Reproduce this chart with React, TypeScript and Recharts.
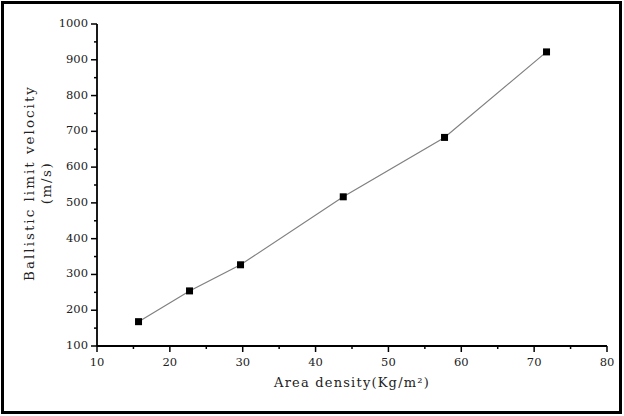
import { LineChart, Line, XAxis, YAxis, Label } from 'recharts';

const areaDensity = [15.7, 22.7, 29.7, 43.8, 57.7, 71.7];
const limitVelocity = [168, 254, 327, 517, 683, 922];
const xTicks = [10, 15, 20, 25, 30, 35, 40, 45, 50, 55, 60, 65, 70, 75, 80];
const yTicks = [100, 150, 200, 250, 300, 350, 400, 450, 500, 550, 600, 650, 700, 750, 800, 850, 900, 950, 1000];

const data = areaDensity.map((x, i) => ({ x, v: limitVelocity[i] }));

const FONT = '"DejaVu Serif", serif';

function XTick({ x, y, payload }: any) {
  const major = payload.value % 10 === 0;
  return (
    <g>
      <line x1={x} x2={x} y1={y} y2={y + (major ? 6 : 3)} stroke="#000" strokeWidth={1.5} />
      {major && (
        <text x={x} y={y + 17} textAnchor="middle" dominantBaseline="middle" fontSize={11.5} fontFamily={FONT} fill="#222">
          {payload.value}
        </text>
      )}
    </g>
  );
}

function YTick({ x, y, payload }: any) {
  const major = payload.value % 100 === 0;
  return (
    <g>
      <line x1={x} x2={x - (major ? 6 : 3)} y1={y} y2={y} stroke="#000" strokeWidth={1.5} />
      {major && (
        <text x={x - 9} y={y} textAnchor="end" dominantBaseline="middle" fontSize={11.5} fontFamily={FONT} fill="#222">
          {payload.value}
        </text>
      )}
    </g>
  );
}

function Square({ cx, cy }: any) {
  return <rect x={cx - 3.5} y={cy - 3.5} width={7} height={7} fill="#000" />;
}

function YTitle({ viewBox }: any) {
  const cy = viewBox.y + viewBox.height / 2 - 2;
  return (
    <g fontFamily={FONT} fontSize={13.5} fill="#222" textAnchor="middle">
      <text transform={`translate(30, ${cy}) rotate(-90)`} dominantBaseline="middle" letterSpacing={2}>
        Ballistic limit velocity
      </text>
      <text transform={`translate(47, ${cy}) rotate(-90)`} dominantBaseline="middle" letterSpacing={1.5}>
        (m/s)
      </text>
    </g>
  );
}

function XTitle({ viewBox }: any) {
  const cx = viewBox.x + viewBox.width / 2;
  return (
    <text x={cx} y={383} textAnchor="middle" dominantBaseline="middle" fontFamily={FONT} fontSize={13} fill="#222" letterSpacing={1.2}>
      Area density(Kg/m²)
    </text>
  );
}

export default function App() {
  return (
    <div style={{ position: 'absolute', left: 0, top: 0, width: 624, height: 416, background: '#fff' }}>
      <div
        style={{
          position: 'absolute', left: 1, top: 1, width: 621, height: 413,
          border: '3px solid #000', boxSizing: 'border-box',
        }}
      />
      <LineChart width={624} height={416} data={data} margin={{ top: 24, right: 17, bottom: 40, left: 0 }}>
        <XAxis
          type="number"
          dataKey="x"
          domain={[10, 80]}
          ticks={xTicks}
          interval={0}
          tickSize={0}
          tickMargin={0}
          tick={<XTick />}
          height={30}
          stroke="#000"
          strokeWidth={1.8}
        >
          <Label content={<XTitle />} />
        </XAxis>
        <YAxis
          type="number"
          domain={[100, 1000]}
          ticks={yTicks}
          interval={0}
          tickSize={0}
          tickMargin={0}
          tick={<YTick />}
          width={97}
          stroke="#000"
          strokeWidth={1.8}
        >
          <Label content={<YTitle />} />
        </YAxis>
        <Line
          type="linear"
          dataKey="v"
          stroke="#808080"
          strokeWidth={1.2}
          dot={<Square />}
          activeDot={false}
          isAnimationActive={false}
        />
      </LineChart>
    </div>
  );
}
